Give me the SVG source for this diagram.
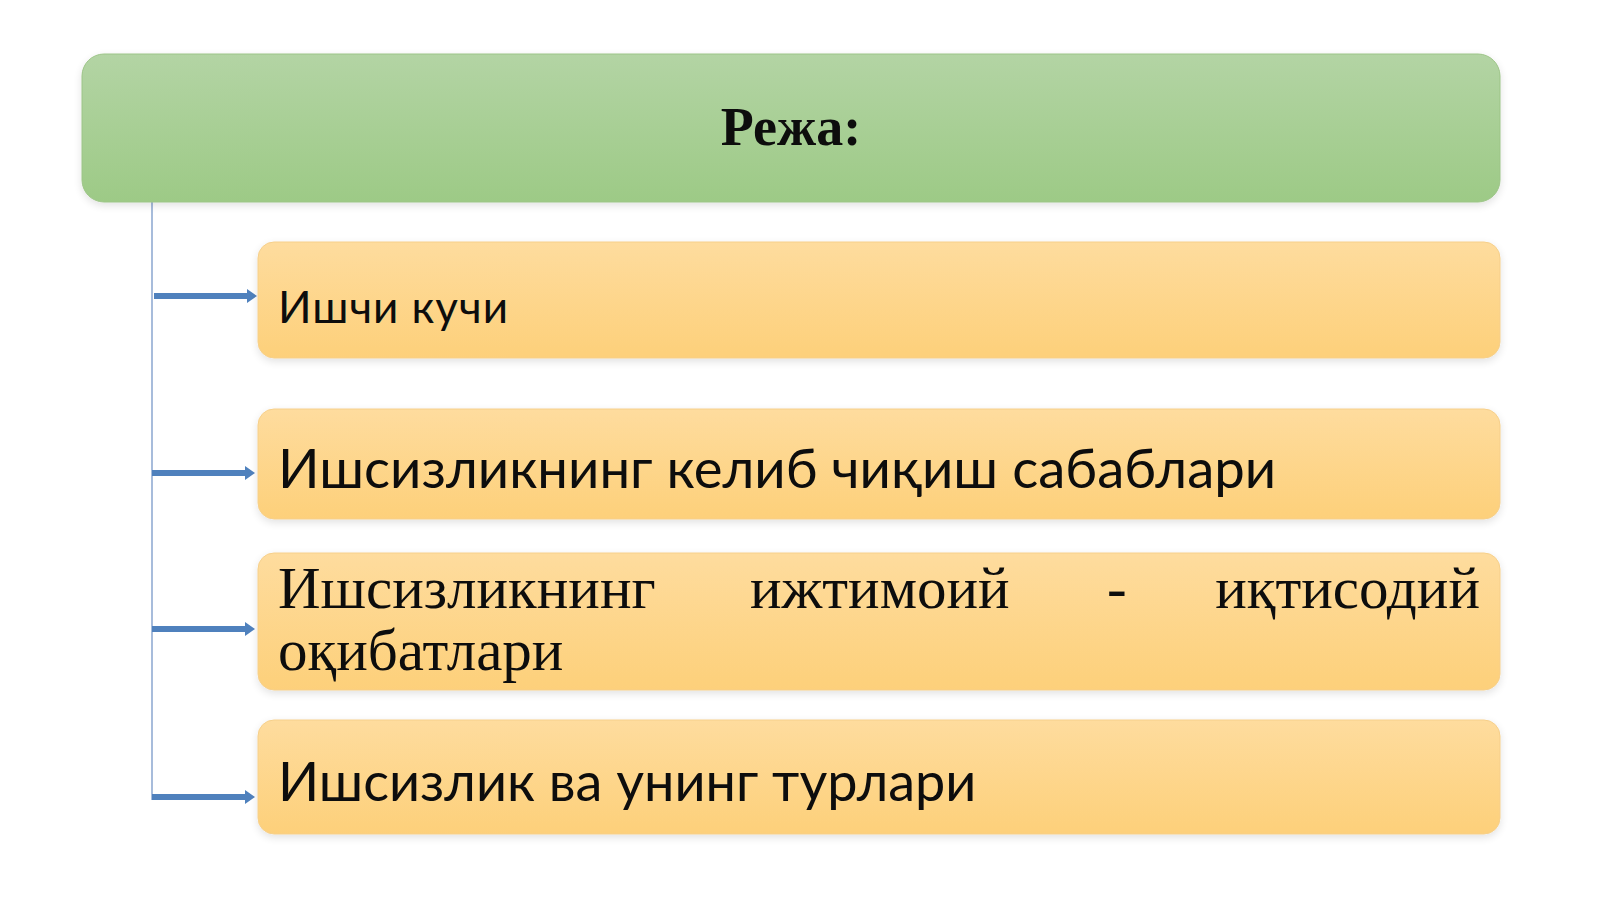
<svg xmlns="http://www.w3.org/2000/svg" width="1600" height="899" viewBox="0 0 1600 899">
<style>
.sans{font-family:Lato,"Open Sans","Noto Sans",sans-serif;fill:#0d0d0d}
.serif{font-family:"Liberation Serif","DejaVu Serif",serif;fill:#0d0d0d}
.item{fill:url(#gOrange);stroke:#f6cf8a;stroke-width:1}
.arrow{stroke:#4f81bd;stroke-width:6;fill:none}
</style>
<defs>
<linearGradient id="gGreen" x1="0" y1="0" x2="0" y2="1">
<stop offset="0" stop-color="#b3d4a4"/>
<stop offset="1" stop-color="#9dca86"/>
</linearGradient>
<linearGradient id="gOrange" x1="0" y1="0" x2="0" y2="1">
<stop offset="0" stop-color="#fedc9e"/>
<stop offset="1" stop-color="#fdd07a"/>
</linearGradient>
<filter id="sh" x="-5%" y="-20%" width="110%" height="150%">
<feGaussianBlur in="SourceAlpha" stdDeviation="4"/>
<feOffset dy="3"/>
<feComponentTransfer><feFuncA type="linear" slope="0.12"/></feComponentTransfer>
<feMerge><feMergeNode/><feMergeNode in="SourceGraphic"/></feMerge>
</filter>
<marker id="ah" viewBox="0 0 10 14" refX="2" refY="7" markerWidth="10" markerHeight="14" orient="auto" markerUnits="userSpaceOnUse">
<path d="M0,0 L10,7 L0,14 z" fill="#4f81bd"/>
</marker>
</defs>
<rect width="1600" height="899" fill="#ffffff"/>
<g id="connectors">
<line x1="152" y1="202" x2="152" y2="800" stroke="#8aa6cf" stroke-width="1.5"/>
<line class="arrow" x1="154" y1="296" x2="249" y2="296" marker-end="url(#ah)"/>
<line class="arrow" x1="152" y1="473" x2="247" y2="473" marker-end="url(#ah)"/>
<line class="arrow" x1="152" y1="629" x2="247" y2="629" marker-end="url(#ah)"/>
<line class="arrow" x1="152" y1="797" x2="247" y2="797" marker-end="url(#ah)"/>
</g>
<g id="header">
<rect x="82" y="54" width="1418" height="148" rx="22" fill="url(#gGreen)" stroke="#9cc487" stroke-width="1" filter="url(#sh)"/>
<text class="serif" x="791" y="145" font-size="54" font-weight="bold" text-anchor="middle">Режа:</text>
</g>
<g id="item1">
<rect class="item" x="258" y="242" width="1242" height="116" rx="16" filter="url(#sh)"/>
<text class="sans" x="278" y="323" font-size="44" textLength="230" lengthAdjust="spacing">Ишчи кучи</text>
</g>
<g id="item2">
<rect class="item" x="258" y="409" width="1242" height="110" rx="16" filter="url(#sh)"/>
<text class="sans" x="278" y="488" font-size="54.5">Ишсизликнинг келиб чиқиш сабаблари</text>
</g>
<g id="item3">
<rect class="item" x="258" y="553" width="1242" height="137" rx="16" filter="url(#sh)"/>
<text class="serif" y="608" font-size="59"><tspan x="278">Ишсизликнинг</tspan><tspan x="750">ижтимоий</tspan><tspan x="1107">-</tspan><tspan x="1480" text-anchor="end">иқтисодий</tspan></text>
<text class="serif" x="278" y="670" font-size="59">оқибатлари</text>
</g>
<g id="item4">
<rect class="item" x="258" y="720" width="1242" height="114" rx="16" filter="url(#sh)"/>
<text class="sans" x="278" y="801" font-size="54">Ишсизлик ва унинг турлари</text>
</g>
</svg>
